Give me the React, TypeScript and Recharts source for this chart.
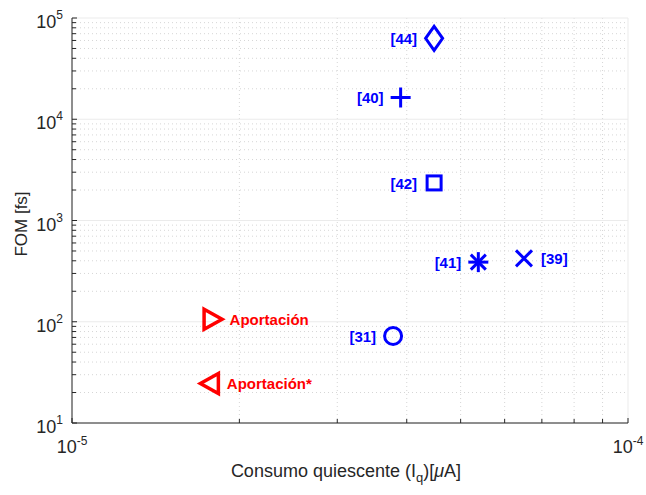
import { ComposedChart, ReferenceLine, Scatter, XAxis, YAxis, Label } from "recharts";

const labels = ["[44]", "[40]", "[42]", "[41]", "[39]", "[31]", "Aportación", "Aportación*"];
const iqValues = [4.48e-5, 3.9e-5, 4.48e-5, 5.38e-5, 6.5e-5, 3.78e-5, 1.79e-5, 1.77e-5];
const fomValues = [6.3e4, 1.64e4, 2.35e3, 388, 423, 72.4, 106, 24.6];
const markers = ["diamond", "plus", "square", "asterisk", "cross", "circle", "triangleRight", "triangleLeft"];
const colors = ["#0000ff", "#0000ff", "#0000ff", "#0000ff", "#0000ff", "#0000ff", "#ff0000", "#ff0000"];
const labelSides = ["left", "left", "left", "left", "right", "left", "right", "right"];

const xMajor = [1e-5, 1e-4];
const xMinor = [2e-5, 3e-5, 4e-5, 5e-5, 6e-5, 7e-5, 8e-5, 9e-5];
const yMajor = [1e1, 1e2, 1e3, 1e4, 1e5];
const yMinor = [1, 2, 3].flatMap((d) => [2, 3, 4, 5, 6, 7, 8, 9].map((m) => m * Math.pow(10, d))).concat([2e4, 3e4, 4e4, 5e4, 6e4, 7e4, 8e4, 9e4]);

const data = labels.map((label, i) => ({
  label,
  iq: iqValues[i],
  fom: fomValues[i],
  marker: markers[i],
  color: colors[i],
  side: labelSides[i],
}));

const FONT = "'Liberation Sans', Arial, Helvetica, sans-serif";
const AXIS = "#262626";

const isMajor = (v: number) => Math.abs(Math.log10(v) - Math.round(Math.log10(v))) < 1e-6;

function YTick({ x, y, payload }: any) {
  const v = payload.value;
  const major = isMajor(v);
  return (
    <g>
      <line x1={x} x2={x + (major ? 5 : 4)} y1={y} y2={y} stroke={AXIS} strokeWidth={1} />
      {major && (
        <text x={x - 9} y={y + 10} textAnchor="end" fontFamily={FONT} fontSize={18} fill={AXIS}>
          10
          <tspan fontSize={12} dy={-9}>
            {Math.round(Math.log10(v))}
          </tspan>
        </text>
      )}
    </g>
  );
}

function XTick({ x, y, payload }: any) {
  const v = payload.value;
  const major = isMajor(v);
  return (
    <g>
      <line x1={x} x2={x} y1={y} y2={y - (major ? 5 : 4)} stroke={AXIS} strokeWidth={1} />
      {major && (
        <text x={x} y={y + 30} textAnchor="middle" fontFamily={FONT} fontSize={18} fill={AXIS}>
          10
          <tspan fontSize={12} dy={-8}>
            {Math.round(Math.log10(v))}
          </tspan>
        </text>
      )}
    </g>
  );
}

function MarkerShape(props: any) {
  const { cx, cy, payload } = props;
  const c = payload.color;
  const sw = 3;
  let mark = null;
  switch (payload.marker) {
    case "diamond":
      mark = <polygon points={`${cx},${cy - 12} ${cx + 8.5},${cy} ${cx},${cy + 12} ${cx - 8.5},${cy}`} fill="none" stroke={c} strokeWidth={sw} />;
      break;
    case "plus":
      mark = (
        <g stroke={c} strokeWidth={sw}>
          <line x1={cx - 10} x2={cx + 10} y1={cy} y2={cy} />
          <line x1={cx} x2={cx} y1={cy - 10} y2={cy + 10} />
        </g>
      );
      break;
    case "square":
      mark = <rect x={cx - 7} y={cy - 7} width={14} height={14} fill="none" stroke={c} strokeWidth={sw} />;
      break;
    case "asterisk":
      mark = (
        <g stroke={c} strokeWidth={sw}>
          <line x1={cx - 10} x2={cx + 10} y1={cy} y2={cy} />
          <line x1={cx} x2={cx} y1={cy - 10} y2={cy + 10} />
          <line x1={cx - 7.5} x2={cx + 7.5} y1={cy - 7.5} y2={cy + 7.5} />
          <line x1={cx - 7.5} x2={cx + 7.5} y1={cy + 7.5} y2={cy - 7.5} />
        </g>
      );
      break;
    case "cross":
      mark = (
        <g stroke={c} strokeWidth={sw}>
          <line x1={cx - 8} x2={cx + 8} y1={cy - 8} y2={cy + 8} />
          <line x1={cx - 8} x2={cx + 8} y1={cy + 8} y2={cy - 8} />
        </g>
      );
      break;
    case "circle":
      mark = <circle cx={cx} cy={cy} r={8.5} fill="none" stroke={c} strokeWidth={sw} />;
      break;
    case "triangleRight":
      mark = <polygon points={`${cx - 8.5},${cy - 10} ${cx + 9.5},${cy} ${cx - 8.5},${cy + 10}`} fill="none" stroke={c} strokeWidth={3.5} />;
      break;
    case "triangleLeft":
      mark = <polygon points={`${cx + 8.5},${cy - 10} ${cx - 9.5},${cy} ${cx + 8.5},${cy + 10}`} fill="none" stroke={c} strokeWidth={3.5} />;
      break;
  }
  const right = payload.side === "right";
  return (
    <g>
      {mark}
      <text
        x={right ? cx + 17 : cx - 17}
        y={cy + 6}
        textAnchor={right ? "start" : "end"}
        fontFamily={FONT}
        fontSize={15}
        fontWeight="bold"
        fill={c}
      >
        {payload.label}
      </text>
    </g>
  );
}

export default function App() {
  return (
    <div style={{ position: "absolute", left: 0, top: 0, width: 646, height: 495, background: "#fff" }}>
      <ComposedChart width={646} height={495} data={data} margin={{ top: 18, right: 18, bottom: 32, left: 22 }}>
        {yMinor.map((v) => (
          <ReferenceLine key={`ym${v}`} y={v} stroke="#d6d6d6" strokeDasharray="1 3" />
        ))}
        {xMinor.map((v) => (
          <ReferenceLine key={`xm${v}`} x={v} stroke="#d6d6d6" strokeDasharray="1 3" />
        ))}
        {yMajor.map((v) => (
          <ReferenceLine key={`yM${v}`} y={v} stroke="#ebebeb" />
        ))}
        {xMajor.map((v) => (
          <ReferenceLine key={`xM${v}`} x={v} stroke="#ebebeb" />
        ))}
        <XAxis
          dataKey="iq"
          type="number"
          scale="log"
          domain={[1e-5, 1e-4]}
          allowDataOverflow
          ticks={[...xMajor, ...xMinor].sort((a, b) => a - b)}
          interval={0}
          tick={<XTick />}
          tickLine={false}
          tickSize={0}
          tickMargin={0}
          height={40}
          axisLine={{ stroke: AXIS, strokeWidth: 1 }}
        >
          <Label
            content={({ viewBox }: any) => (
              <text x={viewBox.x + viewBox.width / 2 - 4} y={477} textAnchor="middle" fontFamily={FONT} fontSize={18} fill={AXIS}>
                Consumo quiescente (I
                <tspan fontSize={13} dy={5}>q</tspan>
                <tspan dy={-5}>)[</tspan>
                <tspan fontStyle="italic">μ</tspan>A]
              </text>
            )}
          />
        </XAxis>
        <YAxis
          dataKey="fom"
          type="number"
          scale="log"
          domain={[10, 1e5]}
          allowDataOverflow
          ticks={[...yMajor, ...yMinor].sort((a, b) => a - b)}
          interval={0}
          tick={<YTick />}
          tickLine={false}
          tickSize={0}
          tickMargin={0}
          width={50}
          axisLine={{ stroke: AXIS, strokeWidth: 1 }}
        >
          <Label
            content={() => (
              <text x={27} y={224} transform="rotate(-90 27 224)" textAnchor="middle" fontFamily={FONT} fontSize={17} fill={AXIS}>
                FOM [fs]
              </text>
            )}
          />
        </YAxis>
        <Scatter dataKey="fom" shape={<MarkerShape />} isAnimationActive={false} />
      </ComposedChart>
    </div>
  );
}
